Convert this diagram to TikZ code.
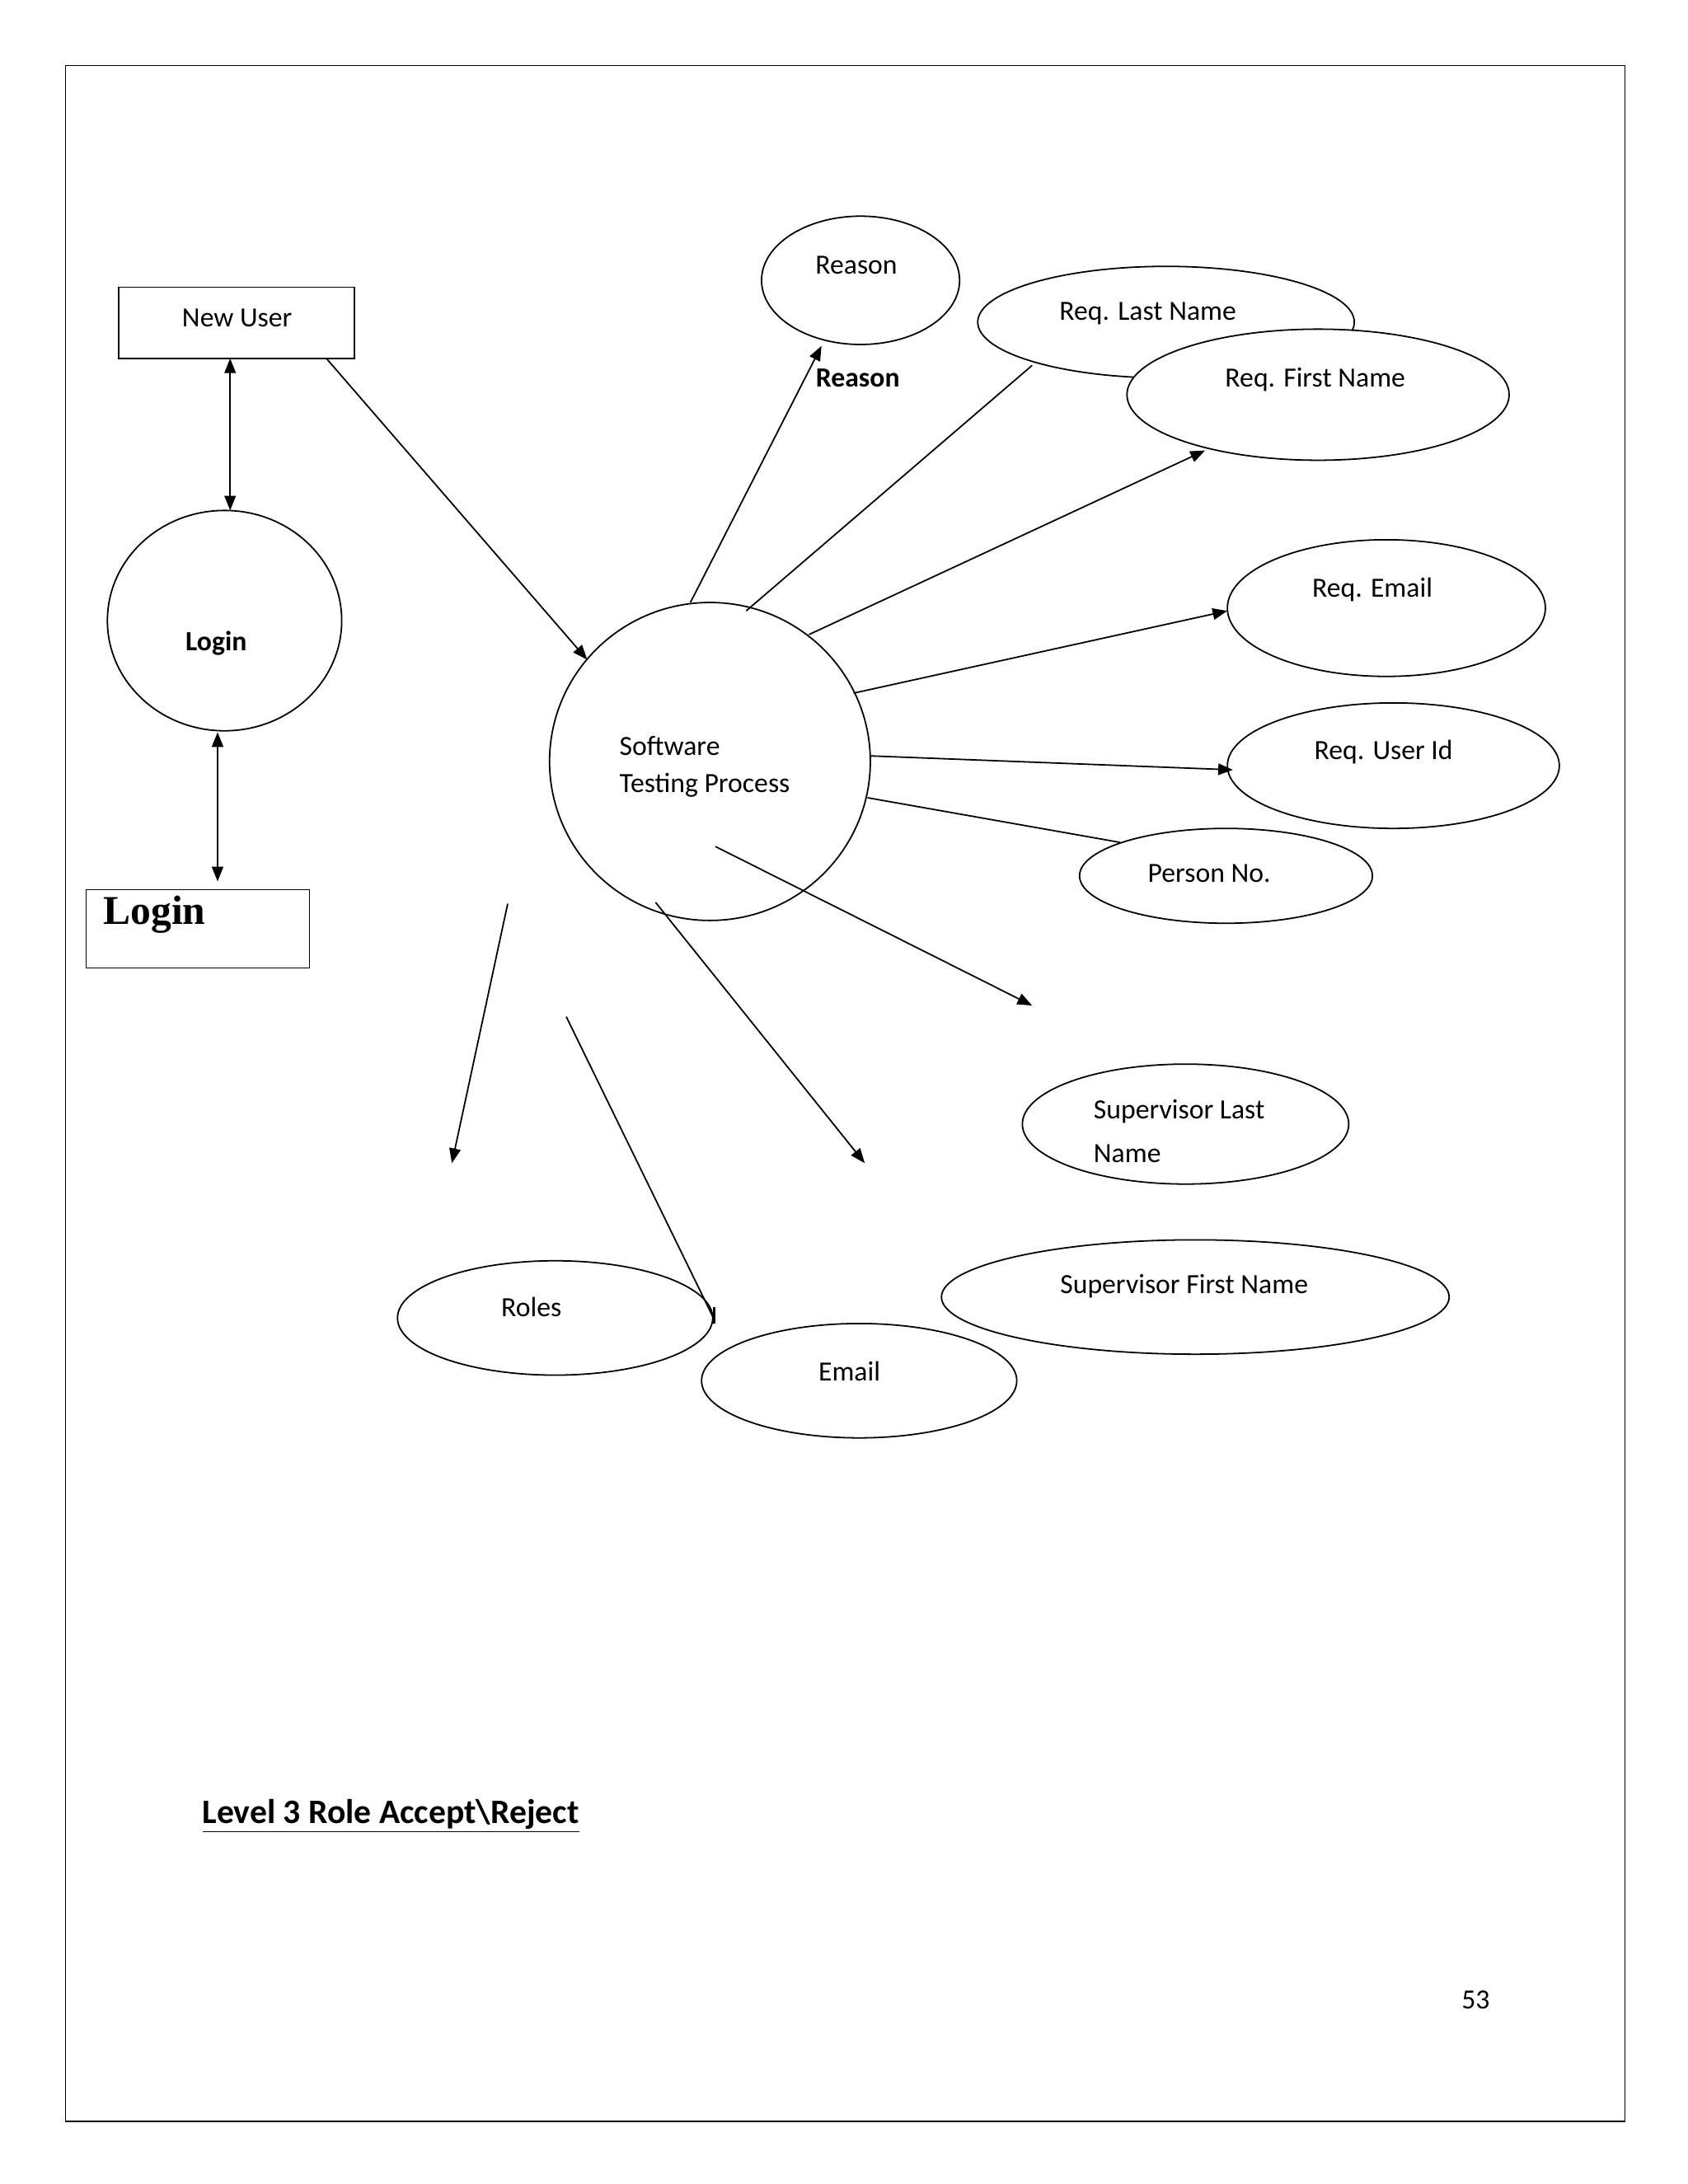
\documentclass[tikz,border=0pt]{standalone}
\usepackage{fontspec}
\setmainfont{Carlito}
\newfontfamily\tms{Liberation Serif}
\usetikzlibrary{arrows.meta,shapes.geometric}
\begin{document}
\begin{tikzpicture}[x=0.03cm,y=-0.03cm,
  ell/.style={draw,ellipse,fill=white,line width=0.9pt},
  lbl/.style={font=\fontsize{17}{20}\selectfont},
  con/.style={line width=0.9pt},
  arr/.style={con,-{Triangle[length=9pt,width=7pt]}},
  darr/.style={con,{Triangle[length=9pt,width=7pt]}-{Triangle[length=9pt,width=7pt]}}]
\useasboundingbox (0,0) rectangle (1210,1566);
\draw[line width=0.9pt] (47,47) rectangle (1165,1521);
% left side
\draw[line width=0.9pt] (85,206) rectangle (254,257);
\node[lbl] (nu) at (170,228) {New User};
\node[ell,minimum width=168*0.03cm,minimum height=158*0.03cm] (lc) at (161,445) {};
\node[lbl,font=\bfseries\fontsize{17}{20}\selectfont] at (155,461) {Login};
\draw[line width=0.5pt] (62,638) rectangle (222,694);
\node[anchor=west,font=\tms\bfseries\fontsize{25}{28}\selectfont] (lb) at (70,656) {Login};
\coordinate (a1) at (165,257); \coordinate (a2) at (165,366);
\draw[darr] (a1) -- (a2);
\coordinate (b1) at (156,525); \coordinate (b2) at (156,632);
\draw[darr] (b1) -- (b2);
% central
\node[ell,minimum width=230*0.03cm,minimum height=228*0.03cm] (sp) at (509,546) {};
\node[lbl,anchor=west] at (440,535) {Software};
\node[lbl,anchor=west] at (440,563) {Testing Process};
\coordinate (c1) at (234,257); \coordinate (c2) at (421,473);
\draw[arr] (c1) -- (c2);
% top right
\node[ell,minimum width=142*0.03cm,minimum height=92*0.03cm] (re) at (617,201) {};
\node[lbl] at (614,190) {Reason};
\node[lbl,font=\bfseries\fontsize{17}{20}\selectfont] at (615,271) {Reason};
\coordinate (d1) at (495,432); \coordinate (d2) at (589,248);
\draw[arr] (d1) -- (d2);
\node[ell,minimum width=270*0.03cm,minimum height=80*0.03cm] (ln) at (836,231) {};
\node[lbl] at (823,225) {Req. Last Name};
\coordinate (e1) at (535,438); \coordinate (e2) at (740,262);
\draw[con] (e1) -- (e2);
\node[ell,minimum width=274*0.03cm,minimum height=94*0.03cm] (fn) at (945,283) {};
\node[lbl] at (943,272) {Req. First Name};
\coordinate (f1) at (580,455); \coordinate (f2) at (864,323);
\draw[arr] (f1) -- (f2);
\node[ell,minimum width=228*0.03cm,minimum height=98*0.03cm] (em) at (994,436) {};
\node[lbl] at (984,423) {Req. Email};
\coordinate (g1) at (612,497); \coordinate (g2) at (880,438);
\draw[arr] (g1) -- (g2);
\node[ell,minimum width=238*0.03cm,minimum height=90*0.03cm] (ui) at (999,549) {};
\node[lbl] at (992,539) {Req. User Id};
\coordinate (h1) at (624,542); \coordinate (h2) at (884,552);
\draw[arr] (h1) -- (h2);
\coordinate (i1) at (622,572); \coordinate (i2) at (803,604);
\draw[con] (i1) -- (i2);
\node[ell,minimum width=210*0.03cm,minimum height=68*0.03cm] (pn) at (879,628) {};
\node[lbl] at (867,626) {Person No.};
\coordinate (j1) at (513,607); \coordinate (j2) at (740,721);
\draw[arr] (j1) -- (j2);
% lower
\node[ell,minimum width=234*0.03cm,minimum height=86*0.03cm] (sl) at (850,806) {};
\node[lbl,anchor=west] at (780,797) {Supervisor Last};
\node[lbl,anchor=west] at (780,827) {Name};
\node[ell,minimum width=364*0.03cm,minimum height=82*0.03cm] (sf) at (857,930) {};
\node[lbl] at (849,922) {Supervisor First Name};
\coordinate (k1) at (470,647); \coordinate (k2) at (620,834);
\draw[arr] (k1) -- (k2);
\coordinate (l1) at (364,648); \coordinate (l2) at (324,834);
\draw[arr] (l1) -- (l2);
\node[ell,minimum width=226*0.03cm,minimum height=82*0.03cm] (ro) at (398,945) {};
\node[lbl] at (381,937) {Roles};
\node[ell,minimum width=226*0.03cm,minimum height=82*0.03cm] (ema) at (616,990) {};
\node[lbl] at (609,983) {Email};
\coordinate (m1) at (406,729); \coordinate (m2) at (512,946);
\draw[con] (m1) -- (m2);
\coordinate (t1) at (512,937); \coordinate (t2) at (512,949);
\draw[line width=1.5pt] (t1) -- (t2);
% title
\node[anchor=west,font=\bfseries\fontsize{21}{24}\selectfont] (tt) at (141,1302) {\underline{Level 3 Role Accept\textbackslash Reject}};
\node[lbl] (pg) at (1058,1434) {53};
\end{tikzpicture}
\end{document}
